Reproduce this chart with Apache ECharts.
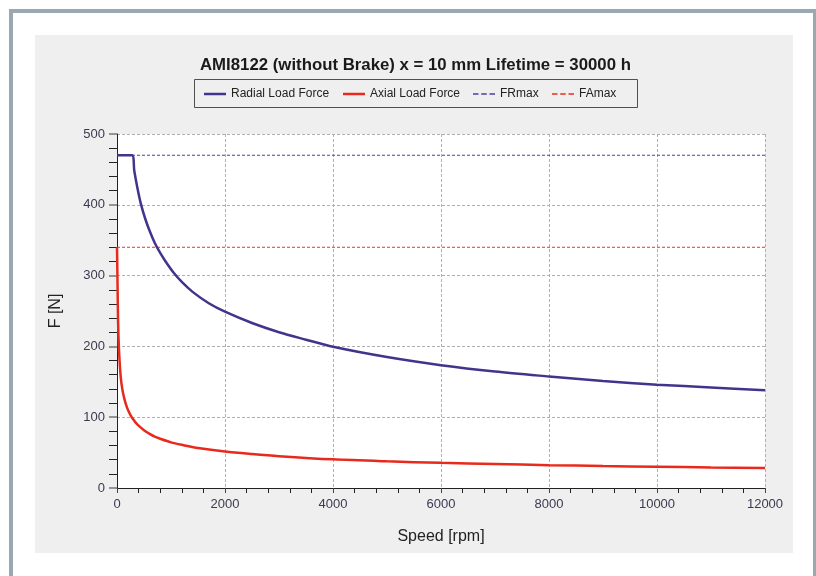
<!DOCTYPE html>
<html><head><meta charset="utf-8">
<script src="https://cdn.jsdelivr.net/npm/echarts@6/dist/echarts.min.js"></script>
<style>html,body{margin:0;padding:0;background:#fff}#c{width:816px;height:576px}</style>
</head><body><div id="c"></div>
<script>
const titleText = 'AMI8122 (without Brake) x = 10 mm Lifetime = 30000 h';
const seriesNames = ['Radial Load Force', 'Axial Load Force', 'FRmax', 'FAmax'];
const xTicks = [0, 2000, 4000, 6000, 8000, 10000, 12000];
const yTicks = [0, 100, 200, 300, 400, 500];
const radialSpeed = [0, 278, 320, 370, 440, 520, 600, 700, 800, 900, 1050, 1200, 1400, 1700, 2000, 2500, 3000, 3500, 4000, 5000, 6000, 7000, 8000, 9000, 10000, 11000, 12000];
const radialForce = [470, 470, 448, 427, 402, 381, 364, 346, 332, 320, 304, 291, 277, 261, 249, 233, 220, 209.5, 199.5, 185, 173.5, 164.5, 157.5, 151, 146, 142, 138];
const axialSpeed = [0, 8, 20, 40, 70, 100, 130, 170, 210, 260, 300, 350, 400, 500, 613, 700, 800, 1000, 1235, 1500, 2000, 2500, 3000, 4000, 5000, 6000, 7000, 8000, 9000, 10000, 11000, 12000];
const axialForce = [340, 300, 235, 190, 156, 139, 128, 117, 109, 101.5, 97, 92, 88, 81.5, 76, 72.5, 69.5, 64.5, 60.5, 56.5, 51.5, 48, 45, 40.5, 37.7, 35.5, 34, 32.3, 31, 30, 29, 28.2];
const frMax = 470;
const faMax = 340;

const radial = radialSpeed.map((s, i) => [s, radialForce[i]]);
const axial = axialSpeed.map((s, i) => [s, axialForce[i]]);
const xMin = xTicks[0], xMax = xTicks[xTicks.length - 1];
const yMin = yTicks[0], yMax = yTicks[yTicks.length - 1];
const colors = ['#44338c', '#e8291c', '#4a3fa0', '#ee3020'];
const chart = echarts.init(document.getElementById('c'), null, {renderer: 'canvas'});
const font = '"Liberation Sans", Arial, sans-serif';
const solidIcon = 'path://M0,0H22V2.5H0Z';
const dashIcon = 'path://M0,0H5V1.5H0Z M7.5,0H12.5V1.5H7.5Z M15,0H20V1.5H15Z';
const legendLeft = [204, 343, 473, 552];
const legends = seriesNames.map((n, i) => ({
  data: [{name: n, icon: i < 2 ? solidIcon : dashIcon}],
  left: legendLeft[i], top: 88, padding: 0,
  itemWidth: 22, itemHeight: i < 2 ? 2.5 : 1.65,
  textStyle: {fontFamily: font, fontSize: 12, color: '#222'}
}));
chart.setOption({
  animation: false,
  backgroundColor: '#ffffff',
  graphic: [
    {type: 'rect', z: -10, shape: {x: 11, y: 11, width: 804, height: 580}, style: {fill: '#ffffff', stroke: '#9aa8b0', lineWidth: 4}},
    {type: 'rect', z: -9, shape: {x: 35, y: 35, width: 758, height: 518}, style: {fill: '#efefef'}},
    {type: 'rect', z: -8, shape: {x: 194.5, y: 79.5, width: 443, height: 28}, style: {fill: '#efefef', stroke: '#505050', lineWidth: 1}},
    {type: 'rect', z: -8, shape: {x: 117, y: 134, width: 648, height: 354}, style: {fill: '#ffffff'}}
  ],
  title: {text: titleText, left: 195, top: 52, textStyle: {fontFamily: font, fontSize: 16.8, fontWeight: 'bold', color: '#1a1a1a'}},
  legend: legends,
  grid: {left: 117, right: 51, top: 134, bottom: 88, containLabel: false},
  xAxis: {
    type: 'value', min: xMin, max: xMax, interval: 2000,
    name: 'Speed [rpm]', nameLocation: 'middle', nameGap: 41,
    nameTextStyle: {fontFamily: font, fontSize: 16, color: '#222'},
    axisLine: {show: true, onZero: false, lineStyle: {color: '#222', width: 1}},
    axisTick: {show: true, length: 5, lineStyle: {color: '#444'}},
    minorTick: {show: true, splitNumber: 5, length: 5, lineStyle: {color: '#222'}},
    axisLabel: {fontFamily: font, fontSize: 13, color: '#3a3a50', margin: 10, formatter: v => String(v)},
    splitLine: {show: true, lineStyle: {color: '#b0b0b0', type: [3, 2], width: 1}}
  },
  yAxis: {
    type: 'value', min: yMin, max: yMax, interval: 100,
    name: 'F [N]', nameLocation: 'middle', nameGap: 53,
    nameTextStyle: {fontFamily: font, fontSize: 16, color: '#222'},
    axisLine: {show: true, onZero: false, lineStyle: {color: '#222', width: 1}},
    axisTick: {show: true, length: 8, lineStyle: {color: '#777', width: 1.5}},
    minorTick: {show: true, splitNumber: 5, length: 8, lineStyle: {color: '#222'}},
    axisLabel: {fontFamily: font, fontSize: 13, color: '#3a3a50', margin: 12, formatter: v => String(v)},
    splitLine: {show: true, lineStyle: {color: '#b0b0b0', type: [3, 2], width: 1}}
  },
  series: [
    {name: seriesNames[0], type: 'line', data: radial, showSymbol: false, symbol: 'none', smooth: 0.3, color: colors[0], lineStyle: {width: 2.5, color: colors[0]}, z: 5},
    {name: seriesNames[1], type: 'line', data: axial, showSymbol: false, symbol: 'none', smooth: 0.3, color: colors[1], lineStyle: {width: 2.5, color: colors[1]}, z: 4},
    {name: seriesNames[2], type: 'line', data: [[xMin, frMax], [xMax, frMax]], showSymbol: false, symbol: 'none', color: colors[2], lineStyle: {width: 1, type: [3, 2], color: colors[2]}, z: 3},
    {name: seriesNames[3], type: 'line', data: [[xMin, faMax], [xMax, faMax]], showSymbol: false, symbol: 'none', color: colors[3], lineStyle: {width: 1, type: [3, 2], color: colors[3]}, z: 3}
  ]
});
</script></body></html>
